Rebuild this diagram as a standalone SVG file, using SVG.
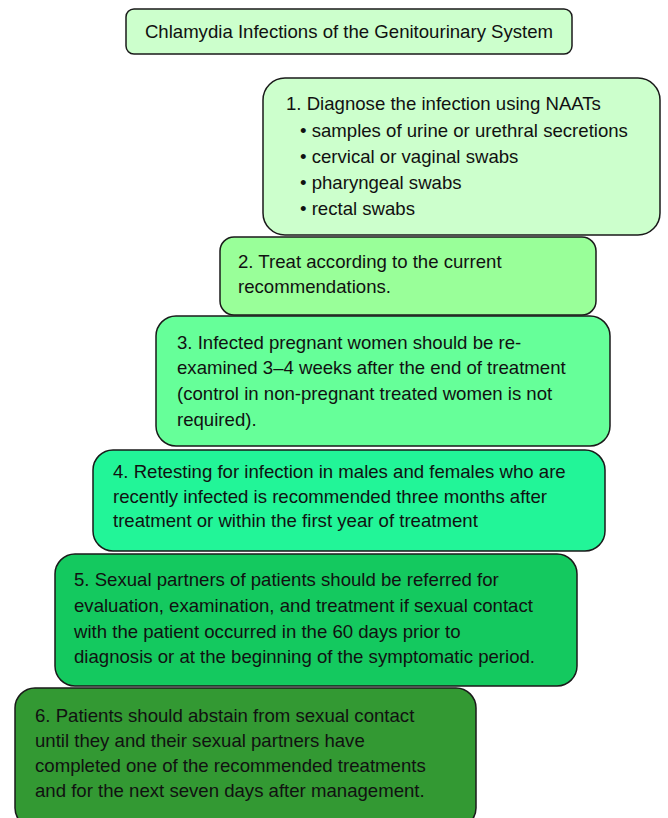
<svg xmlns="http://www.w3.org/2000/svg" width="668" height="818" viewBox="0 0 668 818">
<style>
.box{stroke:#1a1a1a;stroke-width:1.5}
text{font-family:"Liberation Sans",Arial,sans-serif;font-size:18.6px;fill:#111}
</style>
<rect width="668" height="818" fill="#ffffff"/>
<g id="title">
<rect class="box" x="126" y="9" width="446" height="45" rx="8" fill="#ccffcc"/>
<text x="349" y="38" text-anchor="middle">Chlamydia Infections of the Genitourinary System</text>
</g>
<g id="step1">
<rect class="box" x="263" y="78" width="397" height="157" rx="22" fill="#ccffcc"/>
<text x="286" y="110">1. Diagnose the infection using NAATs</text>
<text x="300" y="137">• samples of urine or urethral secretions</text>
<text x="300" y="163">• cervical or vaginal swabs</text>
<text x="300" y="189">• pharyngeal swabs</text>
<text x="300" y="215">• rectal swabs</text>
</g>
<g id="step2">
<rect class="box" x="220" y="237" width="376" height="78" rx="14" fill="#99ff99"/>
<text x="238" y="268">2. Treat according to the current</text>
<text x="238" y="293">recommendations.</text>
</g>
<g id="step3">
<rect class="box" x="156" y="316" width="454" height="130" rx="20" fill="#66ff99"/>
<text x="177" y="349">3. Infected pregnant women should be re-</text>
<text x="177" y="374">examined 3–4 weeks after the end of treatment</text>
<text x="177" y="400">(control in non-pregnant treated women is not</text>
<text x="177" y="426">required).</text>
</g>
<g id="step4">
<rect class="box" x="93" y="450" width="512" height="101" rx="20" fill="#22f598"/>
<text x="113" y="478">4. Retesting for infection in males and females who are</text>
<text x="113" y="503">recently infected is recommended three months after</text>
<text x="113" y="527">treatment or within the first year of treatment</text>
</g>
<g id="step5">
<rect class="box" x="55" y="554" width="522" height="132" rx="20" fill="#14c95f"/>
<text x="74" y="586">5. Sexual partners of patients should be referred for</text>
<text x="74" y="612">evaluation, examination, and treatment if sexual contact</text>
<text x="74" y="638">with the patient occurred in the 60 days prior to</text>
<text x="74" y="663">diagnosis or at the beginning of the symptomatic period.</text>
</g>
<g id="step6">
<rect class="box" x="15" y="688" width="461" height="140" rx="20" fill="#339933"/>
<text x="35" y="722">6. Patients should abstain from sexual contact</text>
<text x="35" y="747">until they and their sexual partners have</text>
<text x="35" y="772">completed one of the recommended treatments</text>
<text x="35" y="797">and for the next seven days after management.</text>
</g>
<g id="connectors"/>
</svg>
